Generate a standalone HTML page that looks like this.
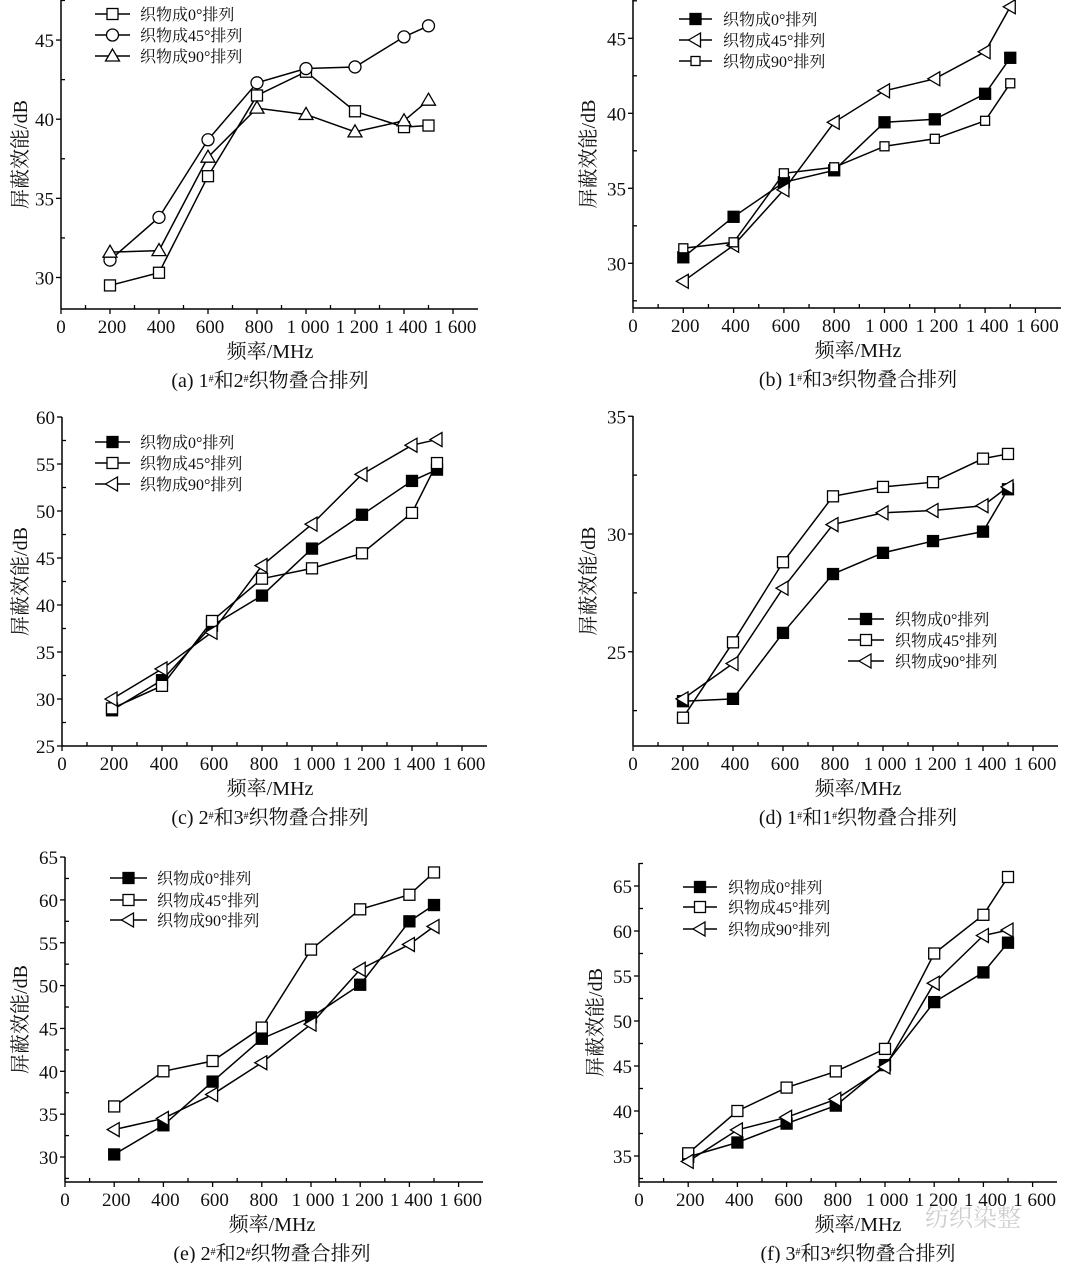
<!DOCTYPE html>
<html><head><meta charset="utf-8"><style>
html,body{margin:0;padding:0;background:#fff;}
svg text{font-family:"Liberation Serif","Noto Serif CJK SC","Noto Sans CJK SC",serif;fill:#111;}
</style></head><body>
<svg id="s" xmlns="http://www.w3.org/2000/svg" width="1080" height="1263" viewBox="0 0 1080 1263"></svg>
<script>
const X=[200,400,600,800,1000,1200,1400,1500];
const P=[
{ox:61,k:49,ay:309,xe:478,top:0,y0:277.5,v0:30,s:15.83,yt:[30,35,40,45],cx:270,ylx:20,
 lg:{x1:95,x2:130,tx:140,ys:[14,35,56]},cap:"(a) 1<tspan baseline-shift='super' font-size='10'>#</tspan>和2<tspan baseline-shift='super' font-size='10'>#</tspan>织物叠合排列",
 ser:[["sqo",[29.5,30.3,36.4,41.5,43.0,40.5,39.5,39.6],"织物成0°排列"],["ci",[31.1,33.8,38.7,42.3,43.2,43.3,45.2,45.9],"织物成45°排列"],["tu",[31.6,31.7,37.6,40.7,40.3,39.2,39.9,41.2],"织物成90°排列"]]},
{ox:633,k:50.3,ay:308,xe:1061,top:0,y0:263.3,v0:30,s:15,yt:[30,35,40,45],cx:858,ylx:588,
 lg:{x1:679,x2:712,tx:723,ys:[19,40,61]},cap:"(b) 1<tspan baseline-shift='super' font-size='10'>#</tspan>和3<tspan baseline-shift='super' font-size='10'>#</tspan>织物叠合排列",
 ser:[["sqf",[30.4,33.1,35.4,36.2,39.4,39.6,41.3,43.7],"织物成0°排列"],["tl",[28.8,31.2,34.9,39.4,41.5,42.3,44.1,47.1],"织物成45°排列"],["sqs",[31.0,31.4,36.0,36.4,37.8,38.3,39.5,42.0],"织物成90°排列"]]},
{ox:62,k:50,ay:746,xe:487,top:417,y0:746,v0:25,s:9.4,yt:[25,30,35,40,45,50,55,60],cx:270,ylx:20,
 lg:{x1:95,x2:130,tx:140,ys:[442,463,484]},cap:"(c) 2<tspan baseline-shift='super' font-size='10'>#</tspan>和3<tspan baseline-shift='super' font-size='10'>#</tspan>织物叠合排列",
 ser:[["sqf",[28.8,32.0,37.8,41.0,46.0,49.6,53.2,54.4],"织物成0°排列"],["sqo",[29.0,31.4,38.3,42.8,43.9,45.5,49.8,55.1],"织物成45°排列"],["tl",[30.0,33.2,37.1,44.2,48.6,53.9,57.0,57.6],"织物成90°排列"]]},
{ox:633,k:50,ay:746,xe:1058,top:416,y0:534,v0:30,s:23.55,yt:[25,30,35],cx:858,ylx:588,
 lg:{x1:848,x2:884,tx:895,ys:[619,640,661]},cap:"(d) 1<tspan baseline-shift='super' font-size='10'>#</tspan>和1<tspan baseline-shift='super' font-size='10'>#</tspan>织物叠合排列",
 ser:[["sqf",[22.9,23.0,25.8,28.3,29.2,29.7,30.1,31.9],"织物成0°排列"],["sqo",[22.2,25.4,28.8,31.6,32.0,32.2,33.2,33.4],"织物成45°排列"],["tl",[23.0,24.5,27.7,30.4,30.9,31.0,31.2,32.0],"织物成90°排列"]]},
{ox:65,k:49.2,ay:1182,xe:483,top:857,y0:1157,v0:30,s:8.57,yt:[30,35,40,45,50,55,60,65],cx:272,ylx:20,
 lg:{x1:110,x2:147,tx:157,ys:[878,900,920]},cap:"(e) 2<tspan baseline-shift='super' font-size='10'>#</tspan>和2<tspan baseline-shift='super' font-size='10'>#</tspan>织物叠合排列",
 ser:[["sqf",[30.3,33.7,38.8,43.8,46.3,50.1,57.5,59.4],"织物成0°排列"],["sqo",[35.9,40.0,41.2,45.1,54.2,58.9,60.6,63.2],"织物成45°排列"],["tl",[33.2,34.5,37.3,41.0,45.5,51.9,54.8,56.9],"织物成90°排列"]]},
{ox:639,k:49.2,ay:1182,xe:1057,top:863,y0:1156,v0:35,s:9,yt:[35,40,45,50,55,60,65],cx:858,ylx:595,
 lg:{x1:683,x2:717,tx:728,ys:[887,907,929]},cap:"(f) 3<tspan baseline-shift='super' font-size='10'>#</tspan>和3<tspan baseline-shift='super' font-size='10'>#</tspan>织物叠合排列",
 ser:[["sqf",[34.9,36.5,38.6,40.6,45.1,52.1,55.4,58.7],"织物成0°排列"],["sqo",[35.3,40.0,42.6,44.4,46.9,57.5,61.8,66.0],"织物成45°排列"],["tl",[34.4,37.9,39.3,41.3,44.9,54.2,59.5,60.1],"织物成90°排列"]]}
];
function mk(t,x,y){
 const st='stroke="#000" stroke-width="1.3"';
 if(t=="sqo")return `<rect x="${x-5.5}" y="${y-5.5}" width="11" height="11" fill="#fff" ${st}/>`;
 if(t=="sqs")return `<rect x="${x-4.5}" y="${y-4.5}" width="9" height="9" fill="#fff" ${st}/>`;
 if(t=="sqf")return `<rect x="${x-5.5}" y="${y-5.5}" width="11" height="11" fill="#000" ${st}/>`;
 if(t=="ci")return `<circle cx="${x}" cy="${y}" r="6" fill="#fff" ${st}/>`;
 if(t=="tu")return `<polygon points="${x},${y-7} ${x-7},${y+5} ${x+7},${y+5}" fill="#fff" ${st}/>`;
 if(t=="tl")return `<polygon points="${x-7},${y} ${x+5},${y-7} ${x+5},${y+7}" fill="#fff" ${st}/>`;
}
let h='';
for(const p of P){
 const Y=v=>p.y0-(v-p.v0)*p.s, XX=f=>p.ox+f/200*p.k;
 h+=`<line x1="${p.ox}" y1="${p.top}" x2="${p.ox}" y2="${p.ay}" stroke="#000" stroke-width="1.5"/>`;
 h+=`<line x1="${p.ox}" y1="${p.ay}" x2="${p.xe}" y2="${p.ay}" stroke="#000" stroke-width="1.5"/>`;
 for(let f=0;f<=1600;f+=100){const x=XX(f);
  if(f%200==0){h+=`<line x1="${x}" y1="${p.ay}" x2="${x}" y2="${p.ay+5}" stroke="#000" stroke-width="1.3"/>`;
   h+=`<text x="${f==0?x:x+2}" y="${p.ay+24}" font-size="19" text-anchor="middle">${f>=1000?"1 "+String(f-1000).padStart(3,"0"):f}</text>`;}
  else h+=`<line x1="${x}" y1="${p.ay}" x2="${x}" y2="${p.ay-4}" stroke="#000" stroke-width="1.3"/>`;}
 const vmin=p.v0-(p.ay-p.y0)/p.s, vmax=p.v0+(p.y0-p.top)/p.s;
 for(let v=Math.ceil((vmin-0.1)/2.5)*2.5;v<=vmax+0.1;v+=2.5){const y=Y(v);
  if(v%5==0){h+=`<line x1="${p.ox-5}" y1="${y}" x2="${p.ox}" y2="${y}" stroke="#000" stroke-width="1.3"/>`;
   h+=`<text x="${p.ox-7}" y="${y+7}" font-size="19" text-anchor="end">${v}</text>`;}
  else h+=`<line x1="${p.ox}" y1="${y}" x2="${p.ox+4}" y2="${y}" stroke="#000" stroke-width="1.3"/>`;}
 const ym=(p.top+p.ay)/2;
 h+=`<text x="${p.ylx}" y="${ym}" font-size="20" text-anchor="middle" transform="rotate(-90 ${p.ylx} ${ym})" dy="7">屏蔽效能/dB</text>`;
 h+=`<text x="${p.cx}" y="${p.ay+49}" font-size="20" text-anchor="middle">频率/MHz</text>`;
 h+=`<text x="${p.cx}" y="${p.ay+78}" font-size="20" text-anchor="middle">${p.cap}</text>`;
 p.ser.forEach((s,i)=>{
  const pts=s[1].map((v,j)=>XX(X[j])+","+Y(v)).join(" ");
  h+=`<polyline points="${pts}" fill="none" stroke="#000" stroke-width="1.5"/>`;
  s[1].forEach((v,j)=>h+=mk(s[0],XX(X[j]),Y(v)));
  const ly=p.lg.ys[i];
  h+=`<line x1="${p.lg.x1}" y1="${ly}" x2="${p.lg.x2}" y2="${ly}" stroke="#000" stroke-width="1.5"/>`;
  h+=mk(s[0],(p.lg.x1+p.lg.x2)/2,ly);
  h+=`<text x="${p.lg.tx}" y="${ly+6}" font-size="16">${s[2]}</text>`;
 });
}
h+=`<text x="925" y="1226" font-size="24" style="fill:#cfcfcf">纺织染整</text>`;
document.getElementById('s').innerHTML=h;
</script>
</body></html>
